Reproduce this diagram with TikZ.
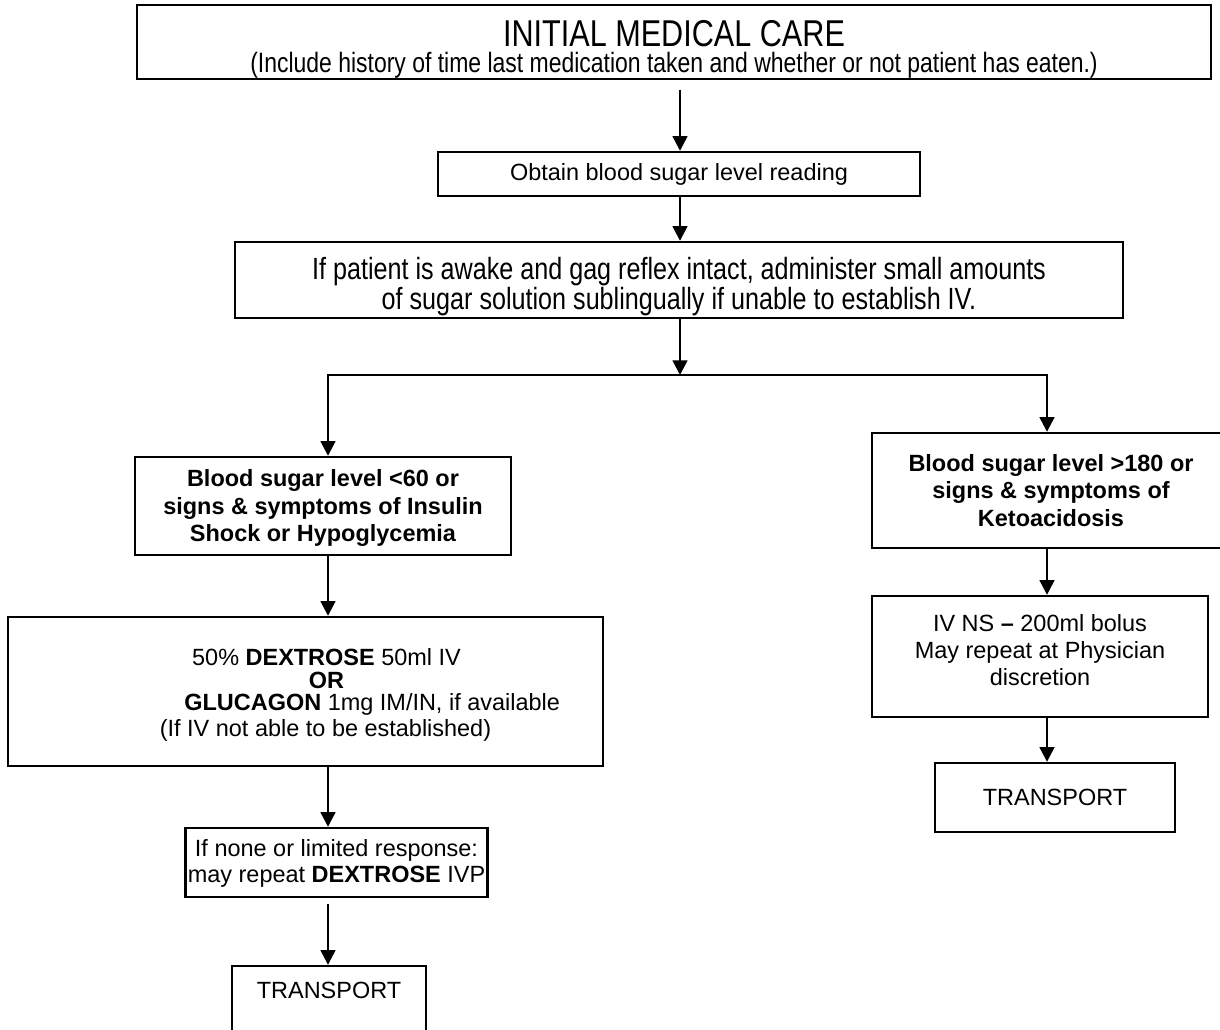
\documentclass[tikz,border=0pt]{standalone}
\usepackage{fontspec}
\setmainfont{Liberation Sans}
\newfontfamily\narrowfont{Liberation Sans}[FakeStretch=0.82]
\usetikzlibrary{arrows.meta}

% text sizes used in the chart
\newcommand{\bodytext}{\fontsize{17.6}{20.5}\selectfont}
\newcommand{\titletext}{\narrowfont\fontsize{28}{30}\selectfont}
\newcommand{\notetext}{\narrowfont\fontsize{21}{24}\selectfont}
\newcommand{\steptext}{\narrowfont\fontsize{23}{21}\selectfont}

% centred lines of text, moved up (positive) or down (negative) inside their box
\newcommand{\vshift}[2]{\raisebox{#1}[\height][\depth]{\begin{tabular}{@{}c@{}}#2\end{tabular}}}

\begin{document}
\begin{tikzpicture}[x=0.75pt,y=-0.75pt,
  box/.style={draw, line width=1.8pt, inner sep=0pt, align=center, font=\bodytext},
  sz/.style 2 args={minimum width=#1*0.75pt, minimum height=#2*0.75pt},
  arr/.style={line width=1.8pt, -{Triangle[width=11pt,length=11pt]}},
]
\useasboundingbox (0,0) rectangle (1220,1029);

% columns of the connectors
\coordinate (mid)  at (680,375);
\coordinate (lcol) at (328,375);
\coordinate (rcol) at (1047,375);

% boxes
\node[box, sz={1074}{74}] (care) at (674,42)
  {\vshift{-6.5pt}{{\titletext INITIAL MEDICAL CARE}\\[-1.5pt]
   {\notetext (Include history of time last medication taken and whether or not patient has eaten.)}}};
\node[box, sz={482}{44}] (reading) at (679,174) {Obtain blood sugar level reading};
\node[box, sz={888}{76}] (sublingual) at (679,280)
  {\vshift{-5.5pt}{\steptext If patient is awake and gag reflex intact, administer small amounts\\
   \steptext of sugar solution sublingually if unable to establish IV.}};
\node[box, sz={376}{98}, font=\bodytext\bfseries] (hypo) at (323,506)
  {\vshift{-2pt}{Blood sugar level <60 or\\ signs \& symptoms of Insulin\\ Shock or Hypoglycemia}};
\node[box, sz={358}{115}, font=\bodytext\bfseries] (keto) at (1051,490.5)
  {Blood sugar level >180 or\\ signs \& symptoms of\\ Ketoacidosis};
\node[box, sz={595}{149}] (dextrose) at (305.5,691.5)
  {\vshift{-3pt}{\hspace*{31.5pt}50\% \textbf{DEXTROSE} 50ml IV\\[-3pt]
   \hspace*{31.5pt}\textbf{OR}\\[-4pt]
   \hspace*{100pt}\textbf{GLUCAGON} 1mg IM/IN, if available\\[-1.5pt]
   \hspace*{30pt}(If IV not able to be established)}};
\node[box, sz={336}{121}] (bolus) at (1040,656.5)
  {\vshift{2.5pt}{IV NS \textbf{--} 200ml bolus\\ May repeat at Physician\\ discretion}};
\node[box, sz={240}{69}] (transportR) at (1055,797.5) {TRANSPORT};
\node[box, sz={302}{69}] (repeat) at (336.5,862.5)
  {\vshift{-1.5pt}{If none or limited response:\\[-1pt] may repeat \textbf{DEXTROSE} IVP}};
\node[box, sz={194}{96}] (transportL) at (329,1014) {\vshift{16pt}{TRANSPORT}};

% connectors
\draw[arr] ([yshift=-7pt]care.south -| mid) -- (reading.north -| mid);
\draw[arr] (reading.south -| mid) -- (sublingual.north -| mid);
\draw[arr] (sublingual.south -| mid) -- (mid);
\draw[arr] (mid) -| (hypo.north -| lcol);
\draw[arr] (mid) -| (keto.north -| rcol);
\draw[arr] (hypo.south -| lcol) -- (dextrose.north -| lcol);
\draw[arr] (dextrose.south -| lcol) -- (repeat.north -| lcol);
\draw[arr] ([yshift=-4pt]repeat.south -| lcol) -- (transportL.north -| lcol);
\draw[arr] (keto.south -| rcol) -- (bolus.north -| rcol);
\draw[arr] (bolus.south -| rcol) -- (transportR.north -| rcol);
\end{tikzpicture}
\end{document}
